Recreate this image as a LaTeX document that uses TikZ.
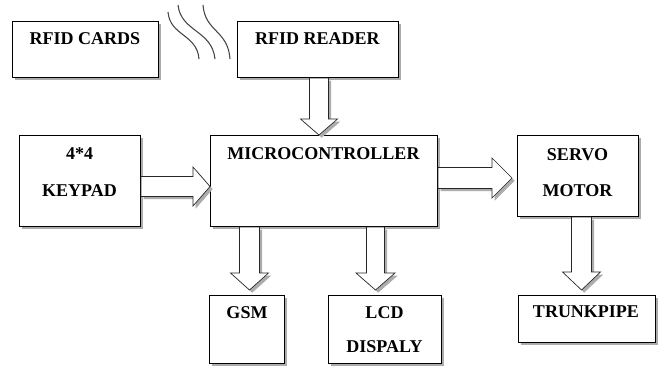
\documentclass[tikz,border=0pt]{standalone}
\usepackage{fontspec}
\setmainfont{Liberation Serif}[BoldFont={Liberation Serif Bold}]
\newfontfamily\boxfont{Liberation Serif Bold}
\usetikzlibrary{calc,shadows}
\newcommand\pxu{0.75pt}
\tikzset{
 blk/.style={draw=black, line width=0.75pt, fill=white,
   drop shadow={shadow xshift=2.2pt, shadow yshift=-2.2pt, fill=gray!65, opacity=1},
   anchor=north west, inner sep=0pt},
 lbl/.style={font=\boxfont\fontsize{13.5}{16}\selectfont, anchor=base, inner sep=0pt},
 arrowline/.style={draw=black!85, line width=0.5pt, fill=white},
 arrowshadow/.style={fill=gray!65, transform canvas={shift={(2pt,-2pt)}}},
 wave/.style={draw=gray!55!black, line width=0.8pt}
}
\newcommand\boxat[5]{%
 \node[blk, minimum width={(#4-#2)*\pxu}, minimum height={(#5-#3)*\pxu}] (#1) at (#2,#3) {};}
\newcommand\blockarr[5]{%
 \coordinate (ba-s) at (#1);
 \coordinate (ba-t) at (#2);
 \coordinate (ba-h) at ($(ba-t)!#5*\pxu!(ba-s)$);
 \coordinate (ba-1) at ($(ba-s)!#3*\pxu!90:(ba-t)$);
 \coordinate (ba-2) at ($(ba-h)!#3*\pxu!90:(ba-t)$);
 \coordinate (ba-3) at ($(ba-h)!#4*\pxu!90:(ba-t)$);
 \coordinate (ba-4) at ($(ba-h)!#4*\pxu!-90:(ba-t)$);
 \coordinate (ba-5) at ($(ba-h)!#3*\pxu!-90:(ba-t)$);
 \coordinate (ba-6) at ($(ba-s)!#3*\pxu!-90:(ba-t)$);
 \path[arrowshadow] (ba-1) -- (ba-2) -- (ba-3) -- (ba-t) -- (ba-4) -- (ba-5) -- (ba-6) -- cycle;
 \path[arrowline] (ba-1) -- (ba-2) -- (ba-3) -- (ba-t) -- (ba-4) -- (ba-5) -- (ba-6) -- cycle;
}
\begin{document}
\begin{tikzpicture}[x=0.75pt, y=-0.75pt]
\useasboundingbox[fill=white] (0,0) rectangle (662,368);
% boxes
\boxat{cards}{12}{21}{158}{77}
\boxat{reader}{237}{21}{398}{77}
\boxat{keypad}{19}{135}{140}{226}
\boxat{micro}{210}{135}{437}{226}
\boxat{servo}{517}{135}{638}{216}
\boxat{gsm}{209}{295}{284}{363}
\boxat{lcd}{328}{295}{441}{363}
\boxat{trunk}{518}{295}{655}{342}
% waves
\draw[wave] (168,12) .. controls (170,36) and (197,34) .. (199,59);
\draw[wave] (178,5) .. controls (181,32) and (212,30) .. (215,59);
\draw[wave] (203,5) .. controls (205,32) and (228,30) .. (230,59);
% arrows
\blockarr{$(reader.south)+(1,0)$}{ba-s |- micro.north}{9.5}{18.5}{16}
\blockarr{[yshift=-5.5*\pxu]keypad.east}{ba-s -| micro.west}{10}{19.5}{17}
\blockarr{[yshift=3*\pxu]micro.east}{$(ba-s -| servo.west)+(-5,0)$}{10.5}{20}{20}
\blockarr{$(gsm.north |- micro.south)+(2.5,0)$}{$(ba-s |- gsm.north)+(0,-5)$}{10}{19}{17}
\blockarr{$(lcd.north |- micro.south)+(-9.5,0)$}{$(ba-s |- lcd.north)+(0,-5)$}{9}{19.5}{17}
\blockarr{$(servo.south)+(3.5,0)$}{$(ba-s |- trunk.north)+(0,-5)$}{10}{19}{18}
% labels
\node[lbl] (cards-t) at (85,44) {RFID CARDS};
\node[lbl] (reader-t) at (317.5,44) {RFID READER};
\node[lbl] (micro-t) at (323.5,159) {MICROCONTROLLER};
\node[lbl] (keypad-t1) at (79.5,159) {4*4};
\node[lbl] (keypad-t2) at (79.5,196) {KEYPAD};
\node[lbl] (servo-t1) at (577.5,160) {SERVO};
\node[lbl] (servo-t2) at (577.5,196) {MOTOR};
\node[lbl] (trunk-t) at (586,317) {TRUNKPIPE};
\node[lbl] (gsm-t) at (247,318) {GSM};
\node[lbl] (lcd-t1) at (384.5,318) {LCD};
\node[lbl] (lcd-t2) at (384.5,352) {DISPALY};
\end{tikzpicture}
\end{document}
